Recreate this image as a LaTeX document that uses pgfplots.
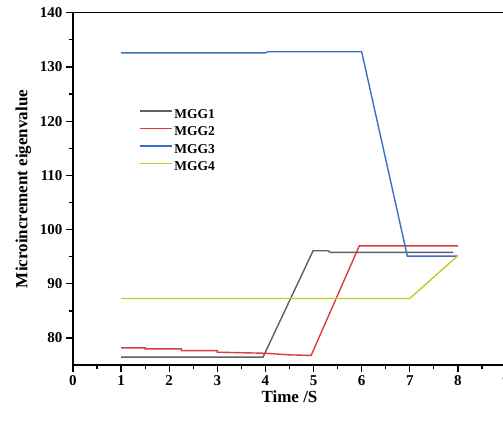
\documentclass[border=0pt]{standalone}
\usepackage{fontspec}
\setmainfont{Liberation Serif}
\usepackage{pgfplots}
\pgfplotsset{compat=1.18}
\usetikzlibrary{calc}

\definecolor{cgray}{RGB}{95,95,95}
\definecolor{cred}{RGB}{220,60,60}
\definecolor{cblue}{RGB}{60,112,200}
\definecolor{cyel}{RGB}{200,200,40}

\begin{document}
\begin{tikzpicture}
\begin{axis}[
    name=ax,
    scale only axis,
    width=433pt, height=352.5pt,
    xmin=0, xmax=9, ymin=75, ymax=140,
    xtick={0,...,9}, ytick={80,90,...,140},
    minor x tick num=1, minor y tick num=1,
    tick pos=left, tick align=outside,
    major tick length=7pt, minor tick length=4pt,
    axis line style={line width=1.6pt},
    every tick/.style={black, line width=1.3pt},
    /pgf/number format/assume math mode=true,
    tick label style={font=\fontsize{15}{15}\selectfont\bfseries},
    xlabel={Time /S}, ylabel={Microincrement eigenvalue},
    label style={font=\fontsize{17}{17}\selectfont\bfseries},
    xlabel style={yshift=2pt},
    ylabel style={yshift=2pt},
    legend style={draw=none, fill=none, at={(0.145,0.744)}, anchor=north west,
        font=\fontsize{13.5}{13.5}\selectfont\bfseries,
        nodes={inner ysep=2.8pt}},
    legend cell align=left,
    legend image code/.code={
        \path[draw=none, fill=none] (0pt,-2.5pt) rectangle (32pt,9.5pt);
        \draw[#1, line width=1.4pt] (0pt,3.5pt) -- (32pt,3.5pt);},
    every axis plot/.append style={line width=1.4pt},
]
\addplot[cgray] coordinates {(1,76.5) (3.95,76.5) (4.99,96.1) (5.3,96.1) (5.35,95.8) (7.9,95.8)};
\addlegendentry{MGG1}
\addplot[cred] coordinates {(1,78.2) (1.5,78.2) (1.5,78.0) (2.25,78.0) (2.25,77.7) (3,77.7) (3,77.4) (4,77.2) (4.5,76.9) (4.95,76.8) (5.95,97.0) (8,97.0)};
\addlegendentry{MGG2}
\addplot[cblue] coordinates {(1,132.6) (4,132.6) (4.05,132.8) (6,132.8) (6.95,95.1) (8,95.1)};
\addlegendentry{MGG3}
\addplot[cyel] coordinates {(1,87.3) (7,87.3) (8,95.2)};
\addlegendentry{MGG4}
\end{axis}
\pgfresetboundingbox
\path[use as bounding box] ($(ax.south west)+(-73pt,-61pt)$) rectangle ($(ax.north east)+(-3pt,12.7pt)$);
\end{tikzpicture}
\end{document}
